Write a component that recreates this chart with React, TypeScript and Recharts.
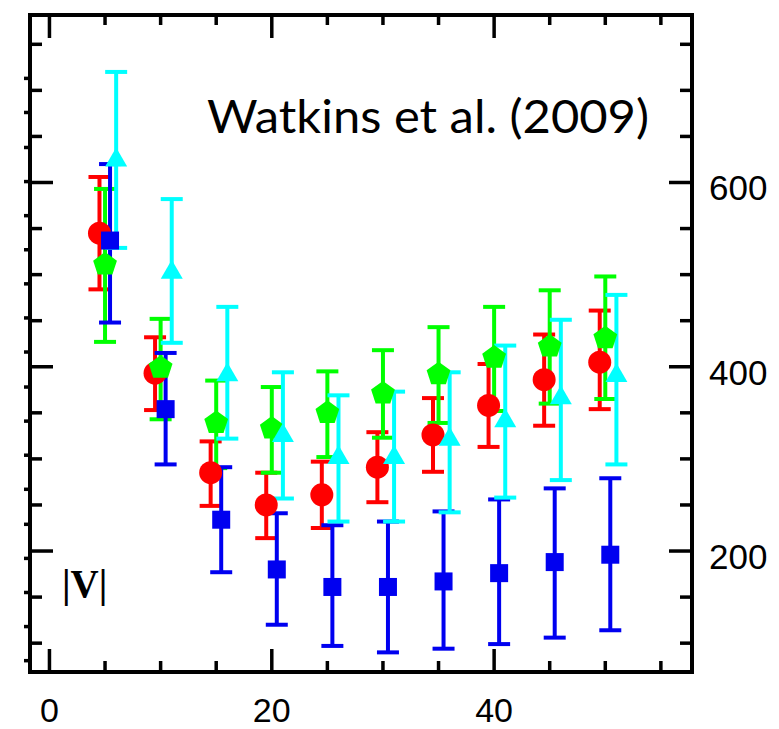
import React from "react";
import { ScatterChart, Scatter, XAxis, YAxis, ErrorBar } from "recharts";

// radial bins (x) shared by every series
const radius = [5, 10, 15, 20, 25, 30, 35, 40, 45, 50];

// red circles
const redValue = [545, 393, 285, 250, 261, 291, 326, 358, 386, 405];
const redLow = [484, 353, 249, 214, 225, 253, 286, 313, 336, 354];
const redHigh = [606, 432, 319, 285, 297, 329, 366, 403, 435, 461];

// green pentagons
const greenValue = [511, 399, 339, 333, 350, 371, 392, 410, 422, 431];
const greenLow = [427, 343, 290, 285, 302, 323, 339, 352, 360, 365];
const greenHigh = [593, 452, 385, 378, 395, 418, 443, 465, 483, 498];

// blue squares
const blueValue = [537, 354, 234, 180, 161, 161, 167, 176, 188, 196];
const blueLow = [448, 294, 177, 120, 97, 90, 94, 99, 106, 114];
const blueHigh = [620, 415, 291, 241, 228, 232, 243, 256, 268, 279];

// cyan triangles
const cyanValue = [625, 503, 392, 326, 302, 302, 322, 342, 367, 391];
const cyanLow = [529, 426, 322, 257, 232, 232, 242, 258, 277, 294];
const cyanHigh = [720, 582, 465, 394, 369, 373, 394, 423, 451, 478];

// axis ticks
const xTicks = [0, 5, 10, 15, 20, 25, 30, 35, 40, 45, 50, 55];
const xLabels = [0, 20, 40];
const yTicks = [100, 150, 200, 250, 300, 350, 400, 450, 500, 550, 600, 650, 700, 750];
const yLabels = [200, 400, 600];
// short outward ticks on the left edge (second, unlabeled scale)
const outerTicks = [81, 118, 155, 192, 229, 267, 304, 341, 378, 416, 453, 490, 527, 564, 601, 638, 676, 713];

const X_DOMAIN: [number, number] = [-1.75, 57.8];
const Y_DOMAIN: [number, number] = [68.7, 781.8];
const LABEL_FONT = "'Liberation Sans', Arial, sans-serif";

const makeSeries = (vals: number[], lo: number[], hi: number[], dx: number) =>
  radius.map((r, i) => ({
    x: r + dx,
    y: vals[i],
    err: [vals[i] - lo[i], hi[i] - vals[i]],
  }));

const series = [
  { name: "red", color: "#ff0000", kind: "circle", data: makeSeries(redValue, redLow, redHigh, -0.5) },
  { name: "green", color: "#00ff00", kind: "pentagon", data: makeSeries(greenValue, greenLow, greenHigh, 0) },
  { name: "blue", color: "#0000f0", kind: "square", data: makeSeries(blueValue, blueLow, blueHigh, 0.45) },
  { name: "cyan", color: "#00ffff", kind: "triangle", data: makeSeries(cyanValue, cyanLow, cyanHigh, 1) },
];

const markerShape = (kind: string, color: string) => (props: any) => {
  const { cx, cy } = props;
  if (cx == null || cy == null) return <g />;
  if (kind === "circle") return <circle cx={cx} cy={cy} r={11.5} fill={color} />;
  if (kind === "square") return <rect x={cx - 9} y={cy - 9} width={18} height={18} fill={color} />;
  if (kind === "triangle")
    return <polygon points={`${cx},${cy - 12} ${cx - 11},${cy + 7} ${cx + 11},${cy + 7}`} fill={color} />;
  const pts = [0, 1, 2, 3, 4]
    .map((k) => {
      const a = ((-90 + 72 * k) * Math.PI) / 180;
      return `${cx + 12.5 * Math.cos(a)},${cy + 12.5 * Math.sin(a)}`;
    })
    .join(" ");
  return <polygon points={pts} fill={color} />;
};

const BottomTick = ({ x, y, payload }: any) => {
  const major = xLabels.includes(payload.value);
  return (
    <g>
      <line x1={x} x2={x} y1={y} y2={y - (major ? 23 : 11)} stroke="#000" strokeWidth={3.5} />
      {major && (
        <text x={x} y={y + 50} textAnchor="middle" fontSize={34} fontFamily={LABEL_FONT} fill="#000">
          {payload.value}
        </text>
      )}
    </g>
  );
};

const TopTick = ({ x, y, payload }: any) => {
  const major = xLabels.includes(payload.value);
  return <line x1={x} x2={x} y1={y} y2={y + (major ? 23 : 10)} stroke="#000" strokeWidth={3.5} />;
};

const LeftTick = ({ x, y, payload }: any) => {
  const v = payload.value;
  if (yTicks.includes(v)) {
    const major = yLabels.includes(v);
    return <line x1={x} x2={x + (major ? 23 : 12)} y1={y} y2={y} stroke="#000" strokeWidth={3.5} />;
  }
  return <line x1={x - 6} x2={x} y1={y} y2={y} stroke="#000" strokeWidth={3.5} />;
};

const RightTick = ({ x, y, payload }: any) => {
  const major = yLabels.includes(payload.value);
  return (
    <g>
      <line x1={x} x2={x - (major ? 23 : 12)} y1={y} y2={y} stroke="#000" strokeWidth={3.5} />
      {major && (
        <text x={x + 17} y={y + 18} fontSize={35} fontFamily={LABEL_FONT} fill="#000">
          {payload.value}
        </text>
      )}
    </g>
  );
};

const frameLine = { stroke: "#000", strokeWidth: 4, strokeLinecap: "square" as const };

export default function App() {
  return (
    <div style={{ position: "absolute", left: 0, top: 0, width: 779, height: 729, background: "#fff" }}>
      <ScatterChart width={779} height={729} margin={{ top: 0, right: 0, bottom: 0, left: 0 }}>
        <XAxis
          xAxisId="top"
          orientation="top"
          type="number"
          dataKey="x"
          height={15}
          domain={X_DOMAIN}
          allowDataOverflow
          ticks={xTicks}
          interval={0}
          tickSize={0}
          tickMargin={0}
          tickLine={false}
          axisLine={frameLine}
          tick={<TopTick />}
        />
        <XAxis
          xAxisId="bottom"
          type="number"
          dataKey="x"
          height={57}
          domain={X_DOMAIN}
          allowDataOverflow
          ticks={xTicks}
          interval={0}
          tickSize={0}
          tickMargin={0}
          tickLine={false}
          axisLine={frameLine}
          tick={<BottomTick />}
        />
        <YAxis
          yAxisId="left"
          type="number"
          dataKey="y"
          width={30}
          domain={Y_DOMAIN}
          allowDataOverflow
          ticks={[...yTicks, ...outerTicks].sort((a, b) => a - b)}
          interval={0}
          tickSize={0}
          tickMargin={0}
          tickLine={false}
          axisLine={frameLine}
          tick={<LeftTick />}
        />
        <YAxis
          yAxisId="right"
          orientation="right"
          type="number"
          dataKey="y"
          width={87}
          domain={Y_DOMAIN}
          allowDataOverflow
          ticks={yTicks}
          interval={0}
          tickSize={0}
          tickMargin={0}
          tickLine={false}
          axisLine={frameLine}
          tick={<RightTick />}
        />
        {series.map((s) => (
          <Scatter
            key={s.name}
            name={s.name}
            data={s.data}
            xAxisId="bottom"
            yAxisId="right"
            fill={s.color}
            isAnimationActive={false}
            shape={markerShape(s.kind, s.color)}
          >
            <ErrorBar dataKey="err" direction="y" width={11} strokeWidth={4} stroke={s.color} isAnimationActive={false} />
          </Scatter>
        ))}
      </ScatterChart>
      <svg width={779} height={729} style={{ position: "absolute", left: 0, top: 0, pointerEvents: "none" }}>
        <text
          x={207}
          y={133}
          fontSize={46}
          textLength={442}
          lengthAdjust="spacingAndGlyphs"
          fontFamily="Lato, 'Open Sans', sans-serif"
          fill="#000"
        >
          Watkins et al. (2009)
        </text>
        <text x={62} y={597} fontSize={39} fontFamily="'Liberation Serif', serif" fontWeight="bold" fill="#000">
          |V|
        </text>
      </svg>
    </div>
  );
}
